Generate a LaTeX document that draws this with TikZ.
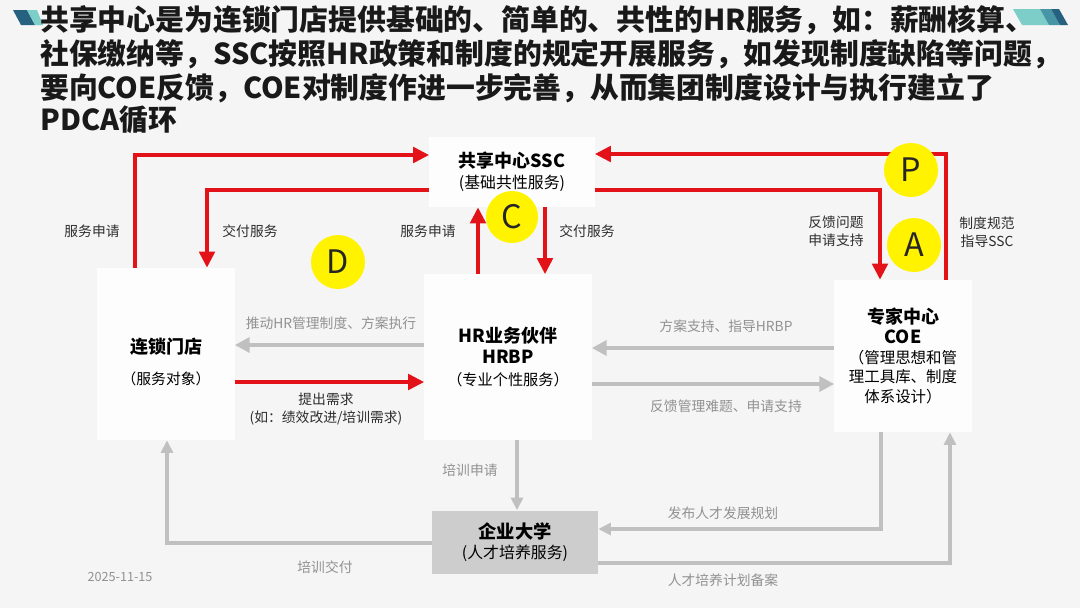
\documentclass[tikz,border=0pt]{standalone}
\usepackage{fontspec}
\setmainfont{Noto Sans CJK SC}
\usepackage{xcolor}
\usepackage{tikz}
\usetikzlibrary{arrows.meta, positioning}
\definecolor{slidebg}{RGB}{245,245,245}
\definecolor{boxwhite}{RGB}{253,253,253}
\definecolor{flowred}{RGB}{226,18,24}
\definecolor{flowgray}{RGB}{192,192,192}
\definecolor{labelgray}{RGB}{145,145,145}
\definecolor{textdark}{RGB}{45,45,45}
\definecolor{markyellow}{RGB}{255,243,0}
\definecolor{unigray}{RGB}{205,205,205}
\definecolor{tealdark}{RGB}{38,98,128}
\definecolor{tealmid}{RGB}{70,150,165}
\definecolor{teallight}{RGB}{125,205,200}
\newcommand{\boxhead}{\fontsize{12.8}{16}\selectfont\bfseries}
\newcommand{\titlefont}{\fontsize{20.5}{24}\selectfont\bfseries}

\begin{document}
\begin{tikzpicture}[x=0.025cm, y=-0.025cm,
  box/.style={fill=boxwhite, inner sep=0pt, align=center, text=black,
              font=\fontsize{10.5}{15}\selectfont},
  titleline/.style={anchor=west, inner sep=0pt, text=black!90, font=\titlefont},
  lbl/.style={inner sep=1pt, align=center, text=textdark,
              font=\fontsize{9.8}{13}\selectfont},
  glbl/.style={lbl, text=labelgray},
  pdcamark/.style={circle, fill=markyellow, minimum size=1.35cm, inner sep=0pt,
               text=black!85, font=\fontsize{23}{23}\selectfont},
  redarr/.style={draw=flowred, line width=2.8pt,
                 -{Triangle[length=11.5pt,width=11pt]}},
  grayarr/.style={draw=flowgray, line width=3.4pt,
                  -{Triangle[length=10.5pt,width=10.5pt]}},
  thingray/.style={draw=flowgray, line width=2.3pt,
                   -{Triangle[length=9pt,width=8.5pt]}}]
  % slide
  \useasboundingbox[fill=slidebg] (0,0) rectangle (1080,608);
  \fill[tealdark] (13,10) -- (27,10) -- (35,25) -- (21,25) -- cycle;
  \fill[teallight] (27,10) -- (37,10) -- (43,25) -- (35,25) -- cycle;
  \fill[teallight] (1013,9) -- (1040,9) -- (1049,25) -- (1022,25) -- cycle;
  \fill[tealmid] (1040,9) -- (1051,9) -- (1060,25) -- (1049,25) -- cycle;
  \fill[tealdark] (1051,9) -- (1059,9) -- (1068,25) -- (1060,25) -- cycle;

  % title text
  \node[titleline] (t1) at (40,20) {共享中心是为连锁门店提供基础的、简单的、共性的HR服务，如：薪酬核算、};
  \node[titleline] (t2) at (40,54) {社保缴纳等，SSC按照HR政策和制度的规定开展服务，如发现制度缺陷等问题，};
  \node[titleline] (t3) at (40,88) {要向COE反馈，COE对制度作进一步完善，从而集团制度设计与执行建立了};
  \node[titleline] (t4) at (40,120) {PDCA循环};

  % units
  \node[box, minimum width=4.125cm, minimum height=1.75cm] (ssc) at (512,172)
    {{\boxhead 共享中心SSC}\\{\fontsize{11.3}{15}\selectfont (基础共性服务)}};
  \node[box, minimum width=3.425cm, minimum height=4.3cm] (store) at (166,354)
    {\rule{0pt}{22pt}{\boxhead 连锁门店}\\[7pt]（服务对象）};
  \node[box, minimum width=4.175cm, minimum height=4.125cm,
        font=\fontsize{10.8}{15}\selectfont] (hrbp) at (508,357)
    {{\boxhead HR业务伙伴}\\{\boxhead HRBP}\\（专业个性服务）};
  \node[box, minimum width=3.425cm, minimum height=3.8cm,
        font=\fontsize{11}{14}\selectfont] (coe) at (903,356)
    {{\boxhead 专家中心}\\{\boxhead COE}\\（管理思想和管\\理工具库、制度\\体系设计）};
  \node[box, fill=unigray, minimum width=4.15cm, minimum height=1.575cm,
        font=\fontsize{11.3}{14.5}\selectfont] (uni) at (515,542)
    {{\fontsize{13}{16}\selectfont\bfseries 企业大学}\\(人才培养服务)};

  % red flows
  \draw[redarr] (135,0 |- store.north) |- (ssc.west |- 0,155);
  \draw[redarr] (ssc.west |- 0,190) -| (207,0 |- store.north);
  \draw[redarr] (478,0 |- hrbp.north) -- (478,0 |- ssc.south);
  \draw[redarr] (545,0 |- ssc.south) -- (545,0 |- hrbp.north);
  \draw[redarr] (946,0 |- coe.north) |- (ssc.east |- 0,154);
  \draw[redarr] (ssc.east |- 0,190) -| (880,0 |- coe.north);
  \draw[redarr] (store.east |- 0,382) -- (hrbp.west |- 0,382);

  % gray flows
  \draw[grayarr] (hrbp.west |- 0,345) -- (store.east |- 0,345);
  \draw[grayarr] (coe.west |- 0,348) -- (hrbp.east |- 0,348);
  \draw[grayarr] (hrbp.east |- 0,384) -- (coe.west |- 0,384);
  \draw[thingray] (517,0 |- hrbp.south) -- (517,0 |- uni.north);
  \draw[thingray] (uni.west |- 0,543) -| (167,0 |- store.south);
  \draw[thingray] (881,0 |- coe.south) |- (uni.east |- 0,529);
  \draw[thingray] (uni.east |- 0,563) -| (950,0 |- coe.south);

  % labels
  \node[lbl] (reqstore) at (92,231) {服务申请};
  \node[lbl] (delstore) at (250,231) {交付服务};
  \node[lbl] (reqhrbp) at (428,231) {服务申请};
  \node[lbl] (delhrbp) at (587,231) {交付服务};
  \node[lbl] (feedback) at (836,231) {反馈问题\\申请支持};
  \node[lbl] (guide) at (987,232) {制度规范\\指导SSC};
  \node[glbl] (push) at (331,323) {推动HR管理制度、方案执行};
  \node[lbl] (demand) at (326,409) {提出需求\\(如：绩效改进/培训需求)};
  \node[glbl] (support) at (726,326) {方案支持、指导HRBP};
  \node[glbl] (problem) at (726,406) {反馈管理难题、申请支持};
  \node[glbl] (trainreq) at (470,470) {培训申请};
  \node[glbl] (plan) at (723,513) {发布人才发展规划};
  \node[glbl] (traindel) at (325,567) {培训交付};
  \node[glbl] (record) at (723,580) {人才培养计划备案};
  \node[glbl, font=\fontsize{9}{11}\selectfont] (date) at (120,577) {2025-11-15};

  % PDCA marks
  \node[pdcamark] (markP) at (911,170) {P};
  \node[pdcamark] (markA) at (914,245) {A};
  \node[pdcamark, minimum size=1.3cm] (markC) at (512,217) {C};
  \node[pdcamark] (markD) at (338,262) {D};
\end{tikzpicture}
\end{document}
